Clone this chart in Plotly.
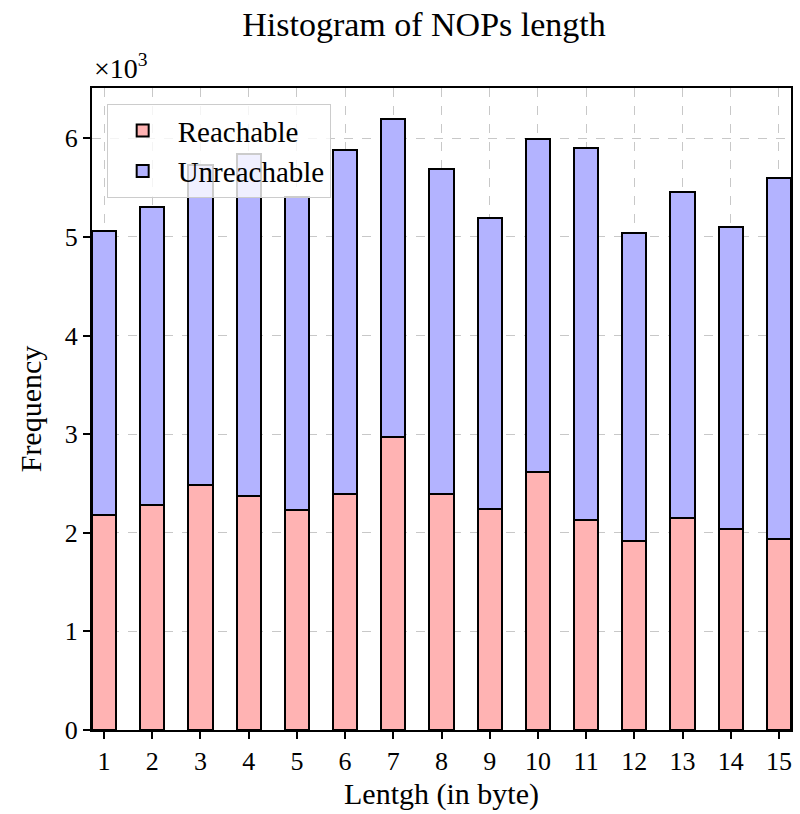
import plotly.graph_objects as go

lengths = list(range(1, 16))
reachable = [2180, 2280, 2480, 2370, 2230, 2390, 2970, 2390, 2240, 2620, 2130, 1920, 2150, 2040, 1940]
total = [5060, 5300, 5730, 5840, 5400, 5880, 6200, 5690, 5190, 5990, 5900, 5040, 5460, 5100, 5600]
unreachable = [t - r for t, r in zip(total, reachable)]

y_tickvals = [0, 1000, 2000, 3000, 4000, 5000, 6000]
y_ticktext = ["0", "1", "2", "3", "4", "5", "6"]

FONT = "Liberation Serif"

fig = go.Figure()
fig.add_trace(go.Bar(x=lengths, y=reachable, name="Reachable", width=0.5,
                     marker=dict(color="#ffb3b3", line=dict(color="black", width=2))))
fig.add_trace(go.Bar(x=lengths, y=unreachable, name="Unreachable", width=0.5,
                     marker=dict(color="#b3b3ff", line=dict(color="black", width=2))))

fig.update_layout(
    barmode="stack",
    width=800, height=814,
    margin=dict(l=92, r=7, t=88, b=84),
    paper_bgcolor="white", plot_bgcolor="white",
    font=dict(family=FONT, color="black", size=26),
    title=dict(text="Histogram of NOPs length", x=0.53, xanchor="center",
               y=0.97, yanchor="middle", font=dict(size=34, family=FONT)),
    legend=dict(x=0.021, y=0.975, xanchor="left", yanchor="top",
                bgcolor="rgba(255,255,255,0.8)", bordercolor="#cccccc", borderwidth=1,
                font=dict(size=29, family=FONT), tracegroupgap=0, traceorder="normal",
                itemwidth=60),
    showlegend=True,
)
fig.update_xaxes(range=[0.75, 15.25], tickvals=lengths, ticks="outside", ticklen=7,
                 tickwidth=2, tickcolor="black", showline=True, linecolor="black",
                 linewidth=2, mirror=True, showgrid=True, gridcolor="#c8c8c8",
                 griddash="dash", gridwidth=1, zeroline=False,
                 title=dict(text="Lentgh (in byte)", font=dict(size=30), standoff=8),
                 tickfont=dict(size=26))
fig.update_yaxes(range=[0, 6510], tickvals=y_tickvals, ticktext=y_ticktext,
                 ticks="outside", ticklen=7, tickwidth=2, tickcolor="black",
                 showline=True, linecolor="black", linewidth=2, mirror=True,
                 showgrid=True, gridcolor="#c8c8c8", griddash="dash", gridwidth=1,
                 zeroline=False,
                 title=dict(text="Frequency", font=dict(size=30), standoff=14),
                 tickfont=dict(size=26))
fig.add_annotation(text="×10<sup>3</sup>", xref="paper", yref="paper", x=0.0, y=1.0,
                   xanchor="left", yanchor="bottom", yshift=2, showarrow=False,
                   font=dict(size=28, family=FONT))

fig.write_html("out.html")
